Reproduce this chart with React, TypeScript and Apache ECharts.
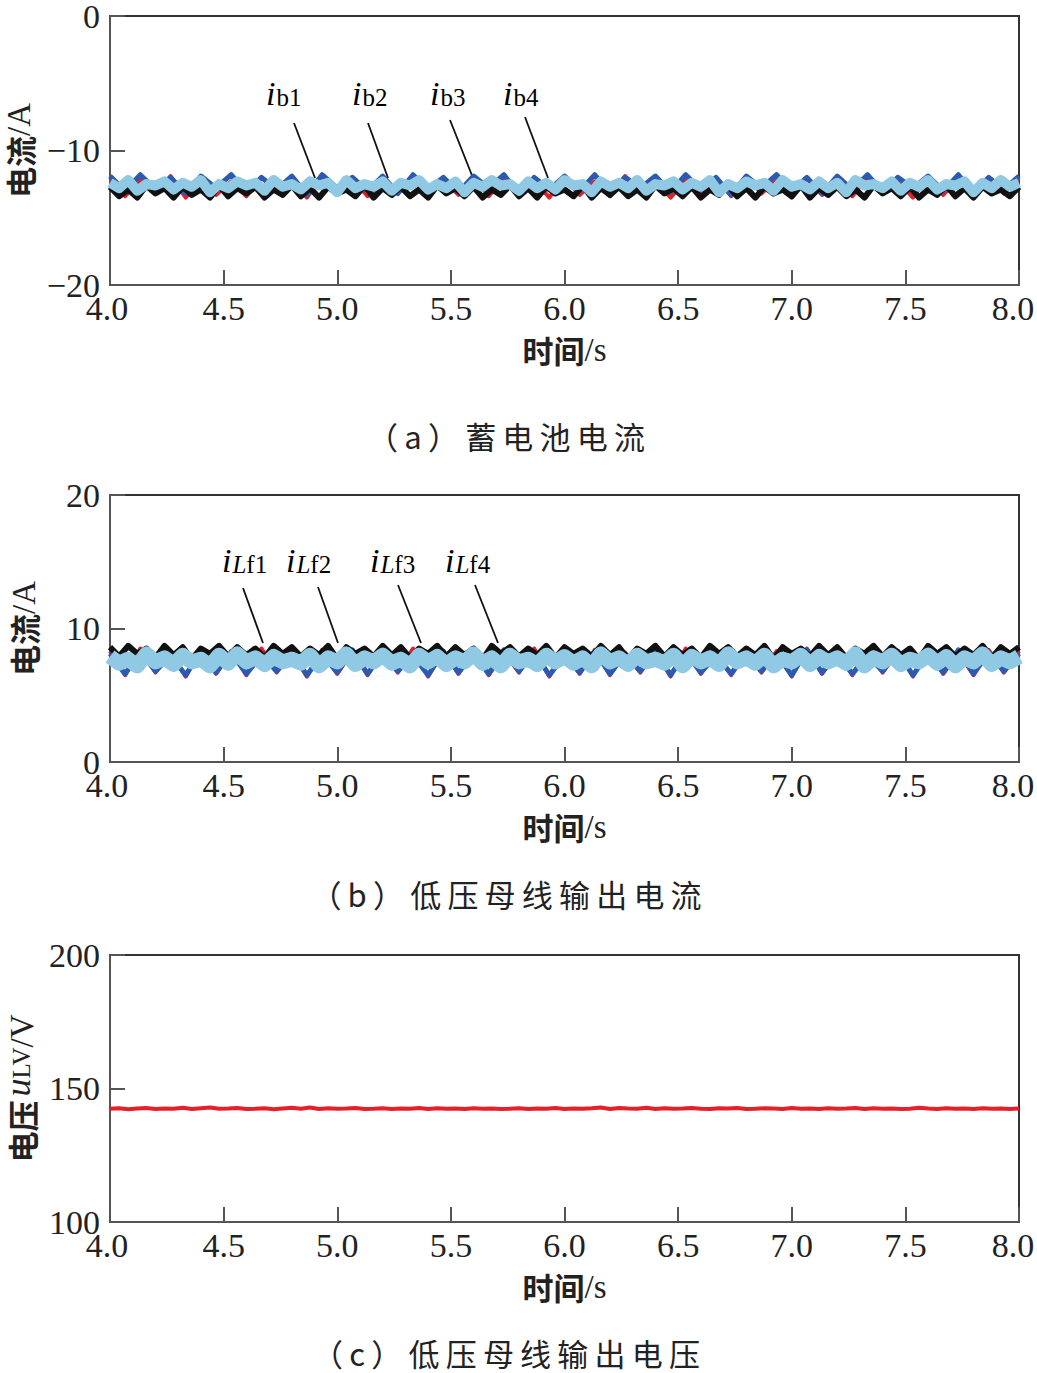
import React, { useEffect, useRef } from "react";
import * as echarts from "echarts";

// ---------- data ----------
const ib1 = [-12.0,-13.4,-12.2,-13.2,-11.9,-13.5,-12.1,-13.3,-12.3,-13.4,-12.0,-13.1,-12.2,-13.5,-11.9,-13.3,-12.1,-13.4,-12.3,-13.2,
  -12.0,-13.5,-12.2,-13.3,-11.9,-13.4,-12.1,-13.2,-12.2,-13.5,-12.0,-13.3,-12.3,-13.4,-11.9,-13.1,-12.1,-13.5,-12.2,-13.3,
  -12.0,-13.4,-11.9,-13.2,-12.2,-13.5,-12.1,-13.3,-12.3,-13.4,-12.0,-13.2,-12.2,-13.5,-11.9,-13.3,-12.1,-13.4,-12.0,-13.2,-12.1];
const ib2 = [-11.9,-13.0,-11.8,-12.9,-12.0,-13.2,-11.9,-12.8,-11.8,-13.1,-12.0,-12.9,-11.9,-13.3,-11.8,-12.8,-12.0,-13.0,-11.9,-13.2,
  -11.8,-12.9,-12.0,-13.1,-11.9,-12.8,-11.8,-13.3,-12.0,-12.9,-11.9,-13.0,-11.8,-13.2,-12.0,-12.8,-11.9,-13.1,-11.8,-12.9,
  -12.0,-13.3,-11.9,-12.8,-11.8,-13.0,-12.0,-13.2,-11.9,-12.9,-11.8,-13.1,-12.0,-12.8,-11.9,-13.0,-11.8,-13.2,-12.0,-12.9,-11.9];
const ib3 = [-12.7,-13.4,-12.9,-13.5,-12.6,-13.2,-12.8,-13.5,-12.7,-13.3,-12.9,-13.5,-12.6,-13.4,-12.8,-13.2,-12.7,-13.5,-12.9,-13.3,
  -12.6,-13.4,-12.8,-13.5,-12.7,-13.2,-12.9,-13.4,-12.6,-13.5,-12.8,-13.3,-12.7,-13.4,-12.9,-13.5,-12.6,-13.2,-12.8,-13.4,
  -12.7,-13.5,-12.9,-13.3,-12.6,-13.4,-12.8,-13.5,-12.7,-13.2,-12.9,-13.4,-12.6,-13.5,-12.8,-13.3,-12.7,-13.4,-12.9,-13.5,
  -12.6,-13.2,-12.8,-13.4,-12.7,-13.5,-12.9,-13.3,-12.6,-13.4,-12.8,-13.5,-12.7,-13.2,-12.9,-13.4,-12.6,-13.5,-12.8,-13.3,
  -12.7,-13.4,-12.9,-13.5,-12.6,-13.2,-12.8,-13.4,-12.7,-13.5,-12.9,-13.3,-12.6,-13.4,-12.8,-13.5,-12.7,-13.2,-12.9,-13.4,-12.7];
const ib4 = [-12.4,-12.8,-12.2,-13.0,-12.5,-12.6,-12.3,-12.9,-12.4,-12.7,-12.2,-13.1,-12.5,-12.8,-12.3,-12.6,-12.4,-13.0,-12.2,-12.7,
  -12.5,-12.9,-12.3,-12.6,-12.4,-13.1,-12.2,-12.8,-12.5,-12.7,-12.3,-13.0,-12.4,-12.6,-12.2,-12.9,-12.5,-12.8,-12.3,-13.1,
  -12.4,-12.7,-12.2,-12.6,-12.5,-13.0,-12.3,-12.8,-12.4,-12.9,-12.2,-12.6,-12.5,-13.1,-12.3,-12.7,-12.4,-12.8,-12.2,-13.0,
  -12.5,-12.6,-12.3,-12.9,-12.4,-12.7,-12.2,-13.1,-12.5,-12.8,-12.3,-12.6,-12.4,-13.0,-12.2,-12.7,-12.5,-12.9,-12.3,-12.8,
  -12.4,-13.1,-12.2,-12.6,-12.5,-12.8,-12.3,-13.0,-12.4,-12.7,-12.2,-12.9,-12.5,-12.6,-12.3,-13.1,-12.4,-12.8,-12.2,-12.7,-12.4];

const iLf1 = [8.3,6.5,8.5,6.7,8.2,6.4,8.4,6.6,8.3,6.5,8.5,6.7,8.2,6.4,8.4,6.6,8.3,6.5,8.2,6.7,
  8.5,6.4,8.3,6.6,8.4,6.5,8.2,6.7,8.5,6.4,8.3,6.6,8.4,6.5,8.2,6.7,8.3,6.4,8.5,6.6,
  8.4,6.5,8.2,6.7,8.3,6.4,8.5,6.6,8.2,6.5,8.4,6.7,8.3,6.4,8.5,6.6,8.2,6.5,8.4,6.7,8.3];
const iLf2 = [8.1,6.6,8.3,6.8,8.0,6.5,8.4,6.7,8.2,6.6,8.0,6.8,8.3,6.5,8.1,6.7,8.4,6.6,8.2,6.8,
  8.0,6.5,8.3,6.7,8.1,6.6,8.4,6.8,8.2,6.5,8.0,6.7,8.3,6.6,8.1,6.8,8.4,6.5,8.2,6.7,
  8.0,6.6,8.3,6.8,8.1,6.5,8.4,6.7,8.2,6.6,8.0,6.8,8.3,6.5,8.1,6.7,8.4,6.6,8.2,6.8,8.1];
const iLf3 = [8.6,7.9,8.7,8.1,8.5,7.8,8.7,8.0,8.6,7.7,8.5,8.1,8.7,7.9,8.6,8.0,8.5,7.8,8.7,8.1,
  8.6,7.9,8.5,8.0,8.7,7.7,8.6,8.1,8.5,7.9,8.7,8.0,8.6,7.8,8.5,8.1,8.7,7.9,8.6,8.0,
  8.5,7.7,8.7,8.1,8.6,7.9,8.5,8.0,8.7,7.8,8.6,8.1,8.5,7.9,8.7,8.0,8.6,7.7,8.5,8.1,
  8.7,7.9,8.6,8.0,8.5,7.8,8.7,8.1,8.6,7.9,8.5,8.0,8.7,7.7,8.6,8.1,8.5,7.9,8.7,8.0,
  8.6,7.8,8.5,8.1,8.7,7.9,8.6,8.0,8.5,7.7,8.7,8.1,8.6,7.9,8.5,8.0,8.7,7.8,8.6,8.1,8.6];
const iLf4 = [7.9,7.4,7.7,7.2,8.1,7.5,7.8,7.3,8.0,7.5,7.7,7.2,8.0,7.4,8.1,7.5,7.8,7.3,7.9,7.5,
  7.7,7.4,8.0,7.2,7.8,7.5,8.1,7.3,7.8,7.5,8.0,7.4,7.7,7.2,8.0,7.5,7.9,7.3,7.8,7.5,
  8.1,7.4,7.8,7.2,8.0,7.5,7.7,7.3,8.0,7.5,7.9,7.4,7.8,7.2,8.1,7.5,7.8,7.3,8.0,7.5,
  7.7,7.4,8.0,7.2,7.9,7.5,7.8,7.3,8.1,7.5,7.8,7.4,8.0,7.2,7.7,7.5,8.0,7.3,7.9,7.5,
  7.8,7.4,8.1,7.2,7.8,7.5,8.0,7.3,7.7,7.5,8.0,7.4,7.9,7.2,7.8,7.5,8.1,7.3,7.8,7.5,7.9];

const uLV = [142.4,142.6,142.2,142.5,142.7,142.3,142.5,142.4,142.8,142.3,142.6,142.9,142.4,142.5,142.7,142.3,142.4,142.6,142.2,142.5,
  142.8,142.4,142.9,142.3,142.6,142.4,142.5,142.7,142.3,142.4,142.6,142.3,142.5,142.4,142.7,142.3,142.6,142.4,142.5,142.3,
  142.6,142.4,142.5,142.3,142.4,142.6,142.3,142.5,142.4,142.7,142.3,142.5,142.4,142.6,142.9,142.3,142.7,142.5,142.4,142.8,
  142.3,142.6,142.4,142.5,142.7,142.4,142.3,142.6,142.5,142.7,142.3,142.4,142.6,142.5,142.3,142.7,142.4,142.5,142.3,142.6,
  142.4,142.5,142.7,142.3,142.6,142.4,142.5,142.3,142.4,142.8,142.5,142.3,142.6,142.4,142.5,142.3,142.6,142.4,142.5,142.3,142.5];

const xTickLabels = ["4.0", "4.5", "5.0", "5.5", "6.0", "6.5", "7.0", "7.5", "8.0"];
const captions = ["（a）蓄电池电流", "（b）低压母线输出电流", "（c）低压母线输出电压"];
const labelsA = ["b1", "b2", "b3", "b4"];
const labelsB = ["Lf1", "Lf2", "Lf3", "Lf4"];

// ---------- styles ----------
const SERIF = "Liberation Serif";
const CJK = "Noto Sans CJK SC";
const RED = "#e3202b";
const BLUE = "#2a5bb0";
const BLACK = "#111111";
const LIGHT = "#8fc9e3";
const AXIS = "#555555";

function pairs(vals: number[]) {
  const n = vals.length;
  return vals.map((v, i) => [4 + (4 * i) / (n - 1), v]);
}

const fmtNum = (v: number) => (v < 0 ? "\u2212" + Math.abs(v) : String(v));

function spaced(s: string) {
  return s.split("").join("\u2009");
}

export default function App() {
  const ref = useRef<HTMLDivElement>(null);
  useEffect(() => {
    document.body.style.margin = "0";
    const chart = echarts.init(ref.current!, null, { renderer: "svg" });

    const grids = [
      { left: 110, top: 16, width: 909, height: 269 },
      { left: 110, top: 495, width: 909, height: 267 },
      { left: 110, top: 955, width: 909, height: 267 },
    ].map((g) => ({
      ...g,
      show: true,
      containLabel: false,
      outerBoundsMode: "none",
      borderColor: "#333",
      borderWidth: 2,
      backgroundColor: "transparent",
    }));

    const tickRich = {
      n: { fontFamily: SERIF, fontSize: 34, color: "#222" },
      f: { fontFamily: SERIF, fontSize: 34, color: "#222", padding: [0, 6, 0, 0] },
      l: { fontFamily: SERIF, fontSize: 34, color: "#222", padding: [0, 12, 0, 0] },
    };

    const xAxes = grids.map((_, i) => ({
      type: "value",
      gridIndex: i,
      position: "bottom",
      min: 4,
      max: 8,
      interval: 0.5,
      name: "{c|时间}{t|/s}",
      nameLocation: "middle",
      nameGap: 48,
      nameTextStyle: {
        fontFamily: SERIF,
        rich: {
          c: { fontFamily: CJK, fontWeight: "bold", fontSize: 31, color: "#222" },
          t: { fontFamily: SERIF, fontSize: 33, color: "#222" },
        },
      },
      axisLine: { show: true, onZero: false, lineStyle: { color: AXIS, width: 2 } },
      axisTick: { show: true, inside: true, length: 15, lineStyle: { color: AXIS, width: 2 } },
      splitLine: { show: false },
      axisLabel: {
        margin: 6,
        fontFamily: SERIF,
        fontSize: 34,
        color: "#222",
        showMinLabel: true,
        showMaxLabel: true,
        rich: tickRich,
        formatter: (v: number) => {
          const k = Math.round((v - 4) / 0.5);
          const t = xTickLabels[k] ?? v.toFixed(1);
          const key = k === 0 ? "f" : k === xTickLabels.length - 1 ? "l" : "n";
          return `{${key}|${t}}`;
        },
      },
    }));

    const yName = [
      "{c|电流}{t|/A}",
      "{c|电流}{t|/A}",
      "{c|电压}{u|u}{s|LV}{t|/V}",
    ];
    const yGaps = [70, 70, 64];
    const yRanges = [
      [-20, 0, 10],
      [0, 20, 10],
      [100, 200, 50],
    ];
    const yAxes = grids.map((_, i) => ({
      type: "value",
      gridIndex: i,
      position: "left",
      min: yRanges[i][0],
      max: yRanges[i][1],
      interval: yRanges[i][2],
      name: yName[i],
      nameLocation: "middle",
      nameRotate: 90,
      nameGap: yGaps[i],
      nameTextStyle: {
        fontFamily: SERIF,
        rich: {
          c: { fontFamily: CJK, fontWeight: "bold", fontSize: 31, color: "#222" },
          t: { fontFamily: SERIF, fontSize: 33, color: "#222" },
          u: { fontFamily: SERIF, fontStyle: "italic", fontSize: 36, color: "#222", padding: [0, 0, 8, 4] },
          s: { fontFamily: SERIF, fontSize: 25, color: "#222" },
        },
      },
      axisLine: { show: true, onZero: false, lineStyle: { color: AXIS, width: 2 } },
      axisTick: { show: true, inside: true, length: 15, lineStyle: { color: AXIS, width: 2 } },
      splitLine: { show: false },
      axisLabel: {
        margin: 10,
        fontFamily: SERIF,
        fontSize: 34,
        lineHeight: 28,
        color: "#222",
        showMinLabel: true,
        showMaxLabel: true,
        formatter: (v: number) => fmtNum(v),
      },
    }));

    const line = (data: number[], color: string, width: number, gi: number, z: number) => ({
      type: "line",
      xAxisIndex: gi,
      yAxisIndex: gi,
      data: pairs(data),
      symbol: "none",
      silent: true,
      z,
      lineStyle: { color, width, join: "round" },
      itemStyle: { color },
    });

    const series = [
      line(ib1, RED, 4, 0, 2),
      line(ib2, BLUE, 5, 0, 3),
      line(ib3, BLACK, 6, 0, 4),
      line(ib4, LIGHT, 10, 0, 5),
      line(iLf1, RED, 4, 1, 2),
      line(iLf2, BLUE, 5, 1, 3),
      line(iLf3, BLACK, 6, 1, 4),
      line(iLf4, LIGHT, 15, 1, 5),
      line(uLV, RED, 4, 2, 2),
    ];

    const labelRich = {
      i: { fontFamily: SERIF, fontStyle: "italic", fontSize: 34, color: "#111", padding: [0, 1, 9, 0] },
      s: { fontFamily: SERIF, fontSize: 25, color: "#111" },
      si: { fontFamily: SERIF, fontStyle: "italic", fontSize: 25, color: "#111" },
    };

    const annA = [
      { tx: 266, ty: 76, l: [294, 123, 315, 178] },
      { tx: 352, ty: 76, l: [368, 123, 388, 178] },
      { tx: 430, ty: 76, l: [450, 120, 473, 178] },
      { tx: 503, ty: 76, l: [525, 117, 548, 178] },
    ];
    const annB = [
      { tx: 222, ty: 543, l: [243, 588, 263, 643] },
      { tx: 286, ty: 543, l: [318, 587, 338, 643] },
      { tx: 370, ty: 543, l: [398, 585, 421, 643] },
      { tx: 445, ty: 543, l: [475, 585, 498, 643] },
    ];

    const graphic: any[] = [];
    annA.forEach((a, k) => {
      graphic.push({
        type: "text",
        x: a.tx,
        y: a.ty,
        silent: true,
        style: { text: `{i|i}{s|${labelsA[k]}}`, fontFamily: SERIF, rich: labelRich },
      });
      graphic.push({
        type: "line",
        silent: true,
        shape: { x1: a.l[0], y1: a.l[1], x2: a.l[2], y2: a.l[3] },
        style: { stroke: "#111", lineWidth: 1.8 },
      });
    });
    annB.forEach((a, k) => {
      const lab = labelsB[k];
      graphic.push({
        type: "text",
        x: a.tx,
        y: a.ty,
        silent: true,
        style: { text: `{i|i}{si|${lab.slice(0, 1)}}{s|${lab.slice(1)}}`, fontFamily: SERIF, rich: labelRich },
      });
      graphic.push({
        type: "line",
        silent: true,
        shape: { x1: a.l[0], y1: a.l[1], x2: a.l[2], y2: a.l[3] },
        style: { stroke: "#111", lineWidth: 1.8 },
      });
    });
    const capY = [435, 893, 1352];
    captions.forEach((c, k) => {
      graphic.push({
        type: "text",
        x: 506,
        y: capY[k],
        silent: true,
        style: {
          text: spaced(c),
          fontFamily: CJK,
          fontSize: 31,
          fill: "#222",
          align: "center",
          verticalAlign: "middle",
        },
      });
    });

    chart.setOption({
      animation: false,
      backgroundColor: "#ffffff",
      textStyle: { fontFamily: SERIF },
      grid: grids,
      xAxis: xAxes,
      yAxis: yAxes,
      series,
      graphic,
    });
    return () => chart.dispose();
  }, []);
  return <div ref={ref} style={{ width: 1037, height: 1373 }} />;
}
